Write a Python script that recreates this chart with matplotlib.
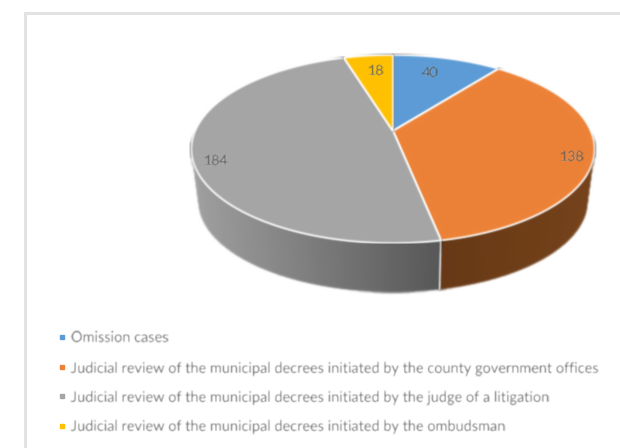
import numpy as np
import matplotlib
matplotlib.use("Agg")
import matplotlib.pyplot as plt
from matplotlib.collections import PolyCollection
from matplotlib.colors import to_rgb
from matplotlib.lines import Line2D

labels = [
    "Omission cases",
    "Judicial review of the municipal decrees initiated by the county government offices",
    "Judicial review of the municipal decrees initiated by the judge of a litigation",
    "Judicial review of the municipal decrees initiated by the ombudsman",
]
values = [40, 138, 184, 18]

colors = ["#5b9bd5", "#ec8236", "#a5a5a5", "#ffc000"]
side_left = ["#3d6a93", "#663714", "#a0a0a0", "#a88000"]
side_right = ["#3d6a93", "#744119", "#585858", "#a88000"]
label_xy = [(430, 73), (572, 157), (216, 161), (376, 71)]

PIVOT_X, PIVOT_Y = 393.0, 131.0
PERSPECTIVE = 0.1916
WIDTH, HEIGHT = 197.8, 90.6
BOTTOM_Y, BOTTOM_SCALE = 184.0, 0.965


def project(theta, radius=1.0, y0=PIVOT_Y, scale=1.0):
    # theta runs clockwise from the top of the disc
    u = radius * np.sin(theta)
    v = radius * np.cos(theta)
    d = 1 + PERSPECTIVE * v
    return PIVOT_X + scale * WIDTH * u / d, y0 - scale * HEIGHT * v / d


def soften(image, dpi, sigma=0.8):
    pad = 4
    out = np.pad(image, ((pad, pad), (pad, pad), (0, 0)))
    offsets = np.arange(-pad, pad + 1)
    weights = np.exp(-offsets ** 2 / (2 * sigma ** 2))
    weights /= weights.sum()
    for axis in (0, 1):
        out = sum(w * np.roll(out, int(o), axis=axis) for o, w in zip(offsets, weights))
    return out, -pad, -pad


def main() -> None:
    plt.rcParams["font.family"] = ["Lato", "DejaVu Sans"]
    plt.rcParams["text.hinting"] = "no_hinting"
    plt.rcParams["text.hinting_factor"] = 8
    fig = plt.figure(figsize=(6.2, 4.48), dpi=100)
    ax = fig.add_axes([0, 0, 1, 1])
    ax.set_xlim(0, 620)
    ax.set_ylim(448, 0)
    ax.axis("off")

    # chart frame, cut off by the image on the right and at the bottom
    ax.plot([25, 25, 620], [448, 13.5, 13.5], color="#e2e2e2", lw=2.2, solid_joinstyle="miter")

    edges = np.cumsum([0] + values) / sum(values) * 2 * np.pi

    # side wall, only the front of the disc shows one
    for i in range(len(values)):
        theta = np.linspace(edges[i], edges[i + 1], 90)
        theta = theta[np.cos(theta) < -0.02]
        if len(theta) < 2:
            continue
        x_top, y_top = project(theta)
        x_bot, y_bot = project(theta, y0=BOTTOM_Y, scale=BOTTOM_SCALE)
        span = max(x_top.max() - x_top.min(), 1)
        quads, shades = [], []
        for j in range(len(theta) - 1):
            quads.append([(x_top[j], y_top[j]), (x_top[j + 1], y_top[j + 1]),
                          (x_bot[j + 1], y_bot[j + 1]), (x_bot[j], y_bot[j])])
            t = (x_top[j] - x_top.min()) / span
            shades.append(tuple((1 - t) * a + t * b for a, b in
                                zip(to_rgb(side_left[i]), to_rgb(side_right[i]))))
        walls = PolyCollection(quads, facecolors=shades, edgecolors=shades, linewidths=0.6, zorder=2)
        walls.set_agg_filter(soften)
        ax.add_collection(walls)

    # seam between the grey and the orange wall
    x_a, y_a = project(edges[2])
    x_b, y_b = project(edges[2], y0=BOTTOM_Y, scale=BOTTOM_SCALE)
    seam = ax.plot([x_a, x_b], [y_a, y_b], color="#e8e8e8", lw=1.0, zorder=3)[0]
    seam.set_agg_filter(soften)

    for i in range(len(values)):
        theta = np.linspace(edges[i], edges[i + 1], 120)
        x, y = project(theta)
        wedge = ax.fill(np.r_[PIVOT_X, x], np.r_[PIVOT_Y, y], facecolor=colors[i],
                        edgecolor="white", lw=1.1, joinstyle="round", zorder=4)[0]
        wedge.set_agg_filter(soften)

    for value, (x, y) in zip(values, label_xy):
        text = ax.text(x, y, str(value), ha="center", va="center", fontsize=10.2,
                       color="#5a5a5a", zorder=5)
        text.set_agg_filter(lambda im, dpi: soften(im, dpi, 0.6))

    handles = [Line2D([], [], ls="none", marker="s", ms=2.5, color=c) for c in colors]
    legend = ax.legend(handles, labels, loc="upper left", bbox_to_anchor=(57, 331.5),
                       bbox_transform=ax.transData, frameon=False, fontsize=10.45,
                       labelcolor="#6c6c6c", handlelength=0.69, handletextpad=0.3,
                       labelspacing=1.08, borderpad=0, borderaxespad=0)
    for text in legend.get_texts():
        text.set_agg_filter(lambda im, dpi: soften(im, dpi, 0.7))

    fig.savefig("out.png", dpi=100, facecolor="white")


if __name__ == "__main__":
    main()
